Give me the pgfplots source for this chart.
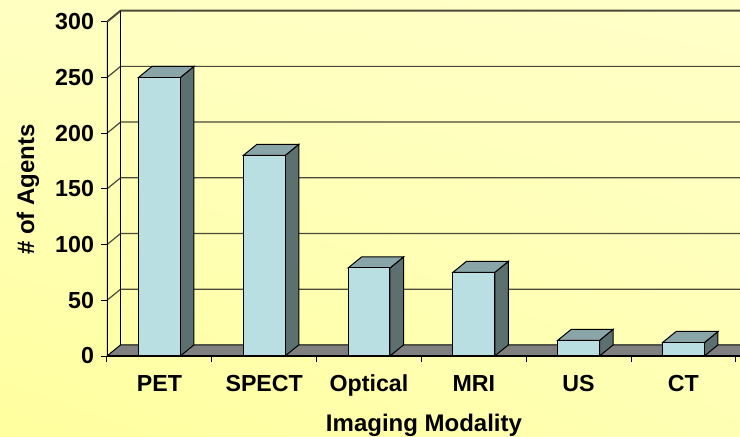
\documentclass[border=0pt]{standalone}
\usepackage{pgfplots}
\pgfplotsset{compat=1.18}
\usepackage{pgfplotstable}
\usetikzlibrary{shadings}
\usepackage{fontspec}
\setmainfont{Liberation Sans}
\definecolor{bgA}{HTML}{FFFF9E}
\definecolor{bgB}{HTML}{FFFFC8}
\definecolor{bgC}{HTML}{FFFFC2}
\definecolor{bgD}{HTML}{FFFFB4}
\definecolor{barfront}{HTML}{B9DFE3}
\definecolor{bartop}{HTML}{89A5A8}
\definecolor{barside}{HTML}{5C7070}
\definecolor{floorc}{HTML}{808080}
\definecolor{gridc}{HTML}{4A4A3A}
\pgfplotstableread{
x v
0.5 250
1.5 180
2.5 79
3.5 75
4.5 14
5.5 12
}\datatable
\def\bdx{0.13}
\def\bdy{10}
\begin{document}
\begin{tikzpicture}
\useasboundingbox (0,0) rectangle (370pt,218pt);
\shade[lower left=bgA, upper right=bgB, upper left=bgC, lower right=bgD] (0,0) rectangle (370pt,218pt);
\begin{axis}[
  at={(53.5pt,40pt)}, anchor=south west,
  x=52.4pt, y=0.557pt,
  xmin=0, xmax=6.04, ymin=0, ymax=312,
  axis line style={draw=none},
  xtick={0,...,6}, x tick label as interval,
  xticklabels={PET,SPECT,Optical,MRI,US,CT},
  ytick={0,50,...,300},
  xtick pos=left, ytick pos=left,
  tick align=outside, major tick length=3pt,
  tick style={black, line width=0.5pt},
  ticklabel style={font=\bfseries\fontsize{11.6}{13}\selectfont},
  /pgf/number format/assume math mode=true,
  xticklabel style={yshift=-3pt},
  xlabel={Imaging Modality}, ylabel={\# of Agents},
  label style={font=\bfseries\fontsize{12}{14}\selectfont},
  xlabel style={at={(axis description cs:0.5008,-0.2)}, anchor=center},
  ylabel style={at={(axis description cs:-0.125,0.479)}, anchor=center},
  clip=true,
]
% left wall and back wall grid
\draw[gridc, line width=0.6pt] (0,50) -- (\bdx,60) -- (7,60);
\draw[gridc, line width=0.6pt] (0,100) -- (\bdx,110) -- (7,110);
\draw[gridc, line width=0.6pt] (0,150) -- (\bdx,160) -- (7,160);
\draw[gridc, line width=0.6pt] (0,200) -- (\bdx,210) -- (7,210);
\draw[gridc, line width=0.6pt] (0,250) -- (\bdx,260) -- (7,260);
\draw[gridc, line width=1pt] (0,300) -- (\bdx,310) -- (7,310);
\draw[black, line width=0.5pt] (\bdx,10) -- (\bdx,310);
\draw[black, line width=0.6pt] (0,0) -- (0,300);
% floor
\addplot[fill=floorc, draw=black, line width=0.5pt, forget plot] coordinates {(0,0) (7,0) (7.13,10) (0.13,10)} -- cycle;
% bar sides and tops
\pgfplotsforeachungrouped \i in {0,...,5}{%
  \pgfplotstablegetelem{\i}{x}\of\datatable \let\cx\pgfplotsretval
  \pgfplotstablegetelem{\i}{v}\of\datatable \let\cv\pgfplotsretval
  \pgfmathsetmacro\xa{\cx-0.2}%
  \pgfmathsetmacro\xb{\cx+0.2}%
  \pgfmathsetmacro\xc{\cx+0.2+\bdx}%
  \pgfmathsetmacro\xd{\cx-0.2+\bdx}%
  \pgfmathsetmacro\vt{\cv+\bdy}%
  \edef\cmd{%
    \noexpand\addplot[fill=barside, draw=black, line width=0.5pt, forget plot] coordinates {(\xb,0) (\xc,\bdy) (\xc,\vt) (\xb,\cv)} -- cycle;
    \noexpand\addplot[fill=bartop, draw=black, line width=0.5pt, forget plot] coordinates {(\xa,\cv) (\xb,\cv) (\xc,\vt) (\xd,\vt)} -- cycle;
  }\cmd
}
% bar fronts
\addplot[ybar, bar width=0.4, fill=barfront, draw=black, line width=0.5pt] table[x=x, y=v] {\datatable};
\draw[black, line width=0.6pt] (0,0) -- (7,0);
\end{axis}
\end{tikzpicture}
\end{document}
